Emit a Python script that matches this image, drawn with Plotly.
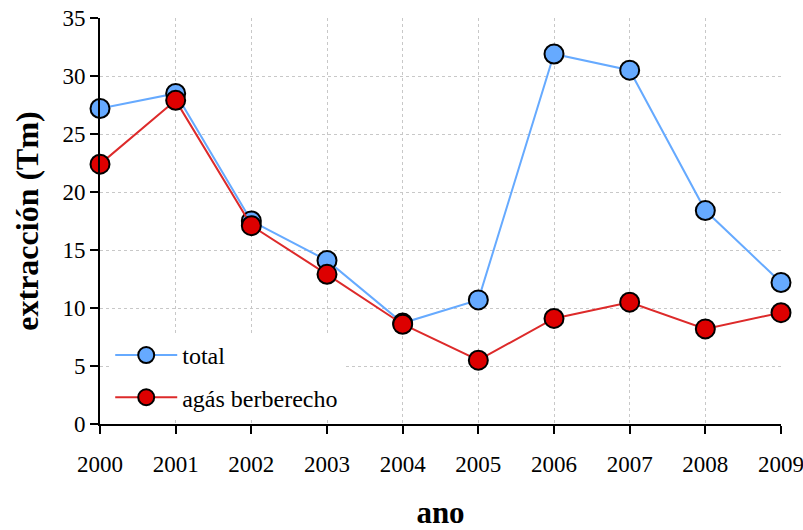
import plotly.graph_objects as go

years = [2000, 2001, 2002, 2003, 2004, 2005, 2006, 2007, 2008, 2009]
total = [27.2, 28.5, 17.5, 14.1, 8.7, 10.7, 31.9, 30.5, 18.4, 12.2]
agas = [22.4, 27.9, 17.1, 12.9, 8.6, 5.5, 9.1, 10.5, 8.2, 9.6]
yticks = [0, 5, 10, 15, 20, 25, 30, 35]

FONT = "Liberation Serif"

fig = go.Figure()
fig.add_trace(go.Scatter(
    x=years, y=total, name="total", mode="lines+markers", legendgroup="a",
    line=dict(color="#66AAFF", width=2),
    marker=dict(size=19, color="#66AAFF", line=dict(color="black", width=2)),
    cliponaxis=False,
))
fig.add_trace(go.Scatter(
    x=years, y=agas, name="agás berberecho", mode="lines+markers", legendgroup="b",
    line=dict(color="#DD2A2A", width=2),
    marker=dict(size=19, color="#DD0000", line=dict(color="black", width=2)),
    cliponaxis=False,
))

fig.update_layout(
    width=803, height=530,
    margin=dict(l=100, r=22, t=18, b=106),
    paper_bgcolor="white", plot_bgcolor="white",
    font=dict(family=FONT, size=23, color="black"),
    showlegend=True,
    legend=dict(
        x=0.015, y=0.01, xanchor="left", yanchor="bottom",
        bgcolor="white", font=dict(family=FONT, size=24),
        tracegroupgap=8, itemwidth=62,
    ),
    xaxis=dict(
        range=[2000, 2009], tickmode="array", tickvals=years,
        ticktext=[str(y) for y in years],
        showline=True, linecolor="black", linewidth=2,
        ticks="outside", ticklen=8, tickwidth=2, tickcolor="black",
        showgrid=True, gridcolor="#C8C8C8", griddash="dot", gridwidth=1,
        zeroline=False, automargin=False,
        ticklabeloverflow="allow", ticklabelstandoff=10,
        tickfont=dict(family=FONT, size=23),
        title=dict(text="<b>ano</b>", font=dict(family=FONT, size=31), standoff=30),
    ),
    yaxis=dict(
        range=[0, 35], tickmode="array", tickvals=yticks,
        showline=True, linecolor="black", linewidth=2,
        ticks="outside", ticklen=8, tickwidth=2, tickcolor="black",
        showgrid=True, gridcolor="#C8C8C8", griddash="dot", gridwidth=1,
        zeroline=False, automargin=False,
        tickfont=dict(family=FONT, size=23),
        title=dict(text="<b>extracción (Tm)</b>", font=dict(family=FONT, size=32), standoff=14),
    ),
)

fig.write_html("out.html", config={"displayModeBar": False},
               post_script="document.body.style.margin='0';")
